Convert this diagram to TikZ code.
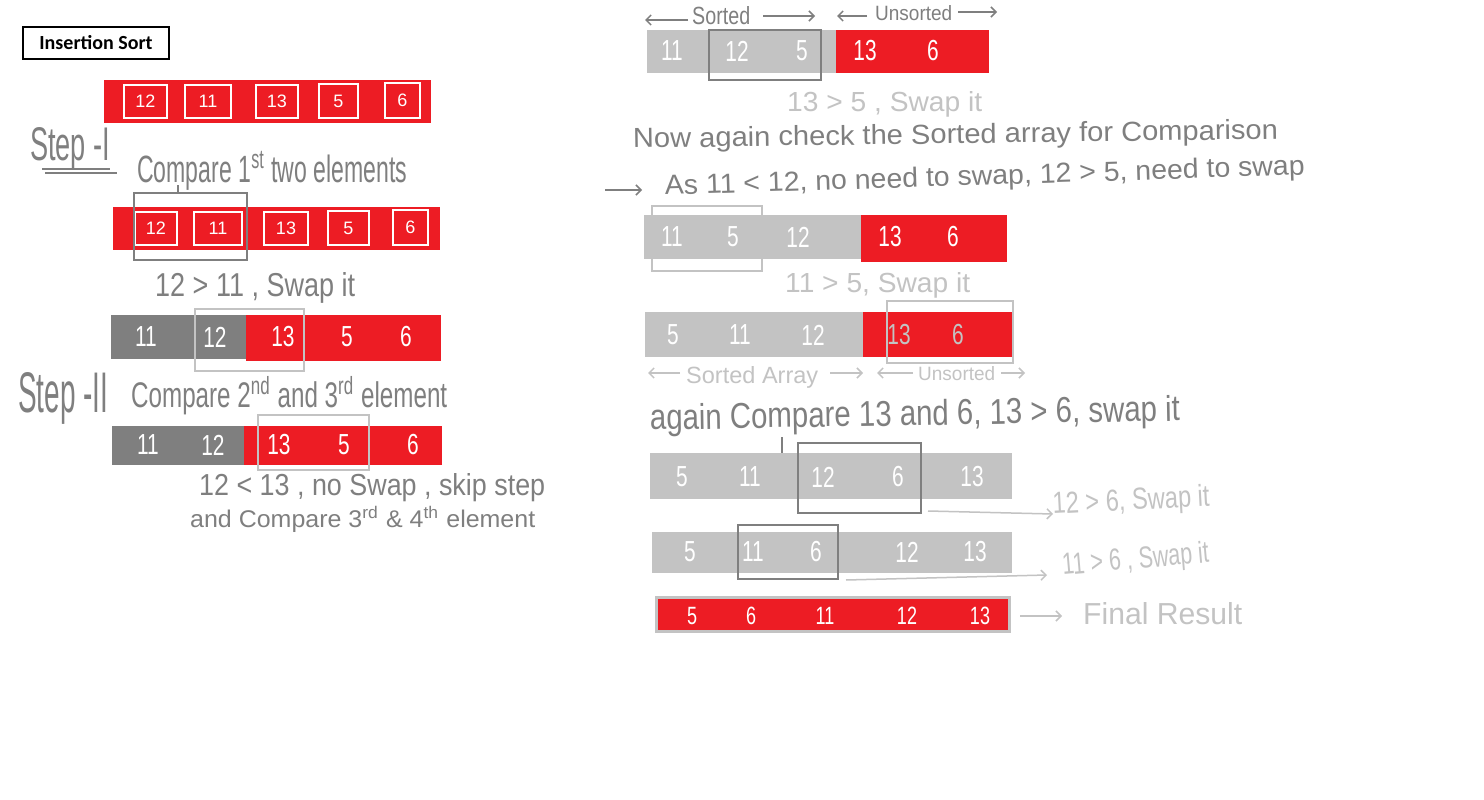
\documentclass[tikz,border=0pt]{standalone}
\usepackage{fontspec}
\setmainfont{Liberation Sans}
\newfontfamily\titlefont{Carlito}
\usetikzlibrary{arrows.meta}
\definecolor{myred}{HTML}{ED1C24}
\definecolor{dgray}{HTML}{7F7F7F}
\definecolor{lgray}{HTML}{C3C3C3}
\newcommand{\hw}[3]{\resizebox{#1pt}{#2pt}{#3}}
\newcommand{\dg}[1]{\scalebox{0.72}[1]{#1}}
\begin{document}
\begin{tikzpicture}[x=1pt,y=-1pt,
  wbox/.style={draw=white, line width=2.6pt, inner sep=0pt, text=white, font=\fontsize{18}{18}\selectfont},
  num/.style={text=white, inner sep=0pt, font=\fontsize{29}{29}\selectfont},
  lnum/.style={num, text=lgray},
  fnum/.style={num, font=\fontsize{25}{25}\selectfont},
  dbox/.style={draw=dgray, line width=2.6pt, inner sep=0pt},
  lbox/.style={draw=lgray, line width=2.6pt, inner sep=0pt},
  hwd/.style={text=dgray, inner sep=0pt, anchor=base west},
  hwl/.style={text=lgray, inner sep=0pt, anchor=base west},
  hwline/.style={draw=dgray, line width=1.5pt},
  darr/.style={draw=dgray, line width=1.5pt, -{Straight Barb[length=5pt,width=10pt]}},
  larr/.style={draw=lgray, line width=1.5pt, -{Straight Barb[length=5pt,width=10pt]}}
]
\useasboundingbox (0,0) rectangle (1484,800);
\fill[white] (0,0) rectangle (1484,800);

% title
\node[draw=black, line width=2.6pt, minimum width=146pt, minimum height=32pt, inner sep=0pt,
      font=\titlefont\bfseries\fontsize{20}{20}\selectfont] (title) at (96,43) {Insertion Sort};

% ---------- left column ----------
% row 1
\fill[myred] (104,80) rectangle (431,123);
\node[wbox, minimum width=43pt, minimum height=33pt] (a1) at (145.5,101.5) {12};
\node[wbox, minimum width=46pt, minimum height=33pt] (a2) at (208,101.5) {11};
\node[wbox, minimum width=42pt, minimum height=33pt] (a3) at (277,101.5) {13};
\node[wbox, minimum width=39pt, minimum height=34pt] (a4) at (338.5,101) {5};
\node[wbox, minimum width=35pt, minimum height=35pt] (a5) at (402.5,100.5) {6};

\node[hwd] (st1) at (30,160) {\hw{80}{33}{Step -I}};
\draw[hwline] (42,169) -- (110,169);
\draw[hwline] (45,173) -- (117,173);
\node[hwd] (t1) at (137,182) {\hw{270}{31}{Compare 1\textsuperscript{st} two elements}};

% row 2
\fill[myred] (113,207) rectangle (440,250);
\node[wbox, minimum width=42pt, minimum height=33pt] (b1) at (156,228.5) {12};
\node[wbox, minimum width=48pt, minimum height=33pt] (b2) at (218,228.5) {11};
\node[wbox, minimum width=44pt, minimum height=33pt] (b3) at (286,228.5) {13};
\node[wbox, minimum width=41pt, minimum height=34pt] (b4) at (348.5,228) {5};
\node[wbox, minimum width=35pt, minimum height=35pt] (b5) at (410.5,227.5) {6};
\node[dbox, minimum width=113pt, minimum height=67pt] (bx1) at (190.5,226.5) {};
\coordinate (p1) at (178,185);
\draw[hwline] (p1) -- (p1 |- bx1.north);

\node[hwd] (t2) at (155,296) {\hw{200}{24}{12 > 11 , Swap it}};

% row 3
\fill[dgray] (111,315) rectangle (246,359);
\fill[myred] (246,315) rectangle (441,361);
\node[num] (c1) at (146,337) {\dg{11}};
\node[num] (c2) at (215,337) {\dg{12}};
\node[num] (c3) at (283,337) {\dg{13}};
\node[num] (c4) at (347,337) {\dg{5}};
\node[num] (c5) at (406,337) {\dg{6}};
\node[lbox, minimum width=109pt, minimum height=62pt] (bx2) at (249.5,340) {};

\node[hwd] (st2) at (18,412) {\hw{90}{40}{Step -II}};
\node[hwd] (t3) at (131,407) {\hw{316}{31}{Compare 2\textsuperscript{nd} and 3\textsuperscript{rd} element}};

% row 4
\fill[dgray] (112,426) rectangle (244,465);
\fill[myred] (244,426) rectangle (442,465);
\node[num] (d1) at (148,445) {\dg{11}};
\node[num] (d2) at (213,445) {\dg{12}};
\node[num] (d3) at (279,445) {\dg{13}};
\node[num] (d4) at (344,445) {\dg{5}};
\node[num] (d5) at (413,445) {\dg{6}};
\node[lbox, minimum width=111pt, minimum height=55pt] (bx3) at (313.5,442.5) {};

\node[hwd] (t4) at (199,495) {\hw{346}{22}{12 < 13 , no Swap , skip step}};
\node[hwd] (t5) at (190,527) {\hw{345}{21}{and Compare 3\textsuperscript{rd} \& 4\textsuperscript{th} element}};

% ---------- right column ----------
\node[hwd] (srt) at (692,25) {\hw{58}{18}{Sorted}};
\coordinate (s0) at (645,20); \coordinate (s1) at (688,20);
\draw[darr] (s1) -- (s0);
\coordinate (s2) at (763,16); \coordinate (s3) at (815,16);
\draw[darr] (s2) -- (s3);
\node[hwd] (uns) at (875,21) {\hw{77}{15}{Unsorted}};
\coordinate (u0) at (837,16); \coordinate (u1) at (867,16);
\draw[darr] (u1) -- (u0);
\coordinate (u2) at (958,12); \coordinate (u3) at (997,12);
\draw[darr] (u2) -- (u3);

% R1
\fill[lgray] (647,30) rectangle (836,73);
\fill[myred] (836,30) rectangle (989,73);
\node[num] (e1) at (672,51) {\dg{11}};
\node[num] (e2) at (737,51) {\dg{12}};
\node[num] (e3) at (802,51) {\dg{5}};
\node[num] (e4) at (865,51) {\dg{13}};
\node[num] (e5) at (933,51) {\dg{6}};
\node[dbox, minimum width=112pt, minimum height=50pt] (bx4) at (765,55) {};

\node[hwl] (t6) at (787,111) {\hw{195}{20}{13 > 5 , Swap it}};
\node[hwd, rotate=0.8] (t7) at (633,148) {\hw{645}{20}{Now again check the Sorted array for Comparison}};
\coordinate (q0) at (605,190); \coordinate (q1) at (642,190);
\draw[darr] (q0) -- (q1);
\node[hwd, rotate=1.8] (t8) at (665,195) {\hw{640}{20}{As 11 < 12, no need to swap, 12 > 5, need to swap}};

% R2
\fill[lgray] (644,215) rectangle (861,259);
\fill[myred] (861,215) rectangle (1007,262);
\node[num] (f1) at (672,237) {\dg{11}};
\node[num] (f2) at (733,237) {\dg{5}};
\node[num] (f3) at (798,237) {\dg{12}};
\node[num] (f4) at (890,237) {\dg{13}};
\node[num] (f5) at (953,237) {\dg{6}};
\node[lbox, minimum width=110pt, minimum height=65pt] (bx5) at (707,238.5) {};

\node[hwl] (t9) at (785,292) {\hw{185}{20}{11 > 5, Swap it}};

% R3
\fill[lgray] (645,312) rectangle (863,357);
\fill[myred] (863,312) rectangle (1013,357);
\node[num] (g1) at (673,335) {\dg{5}};
\node[num] (g2) at (740,335) {\dg{11}};
\node[num] (g3) at (813,335) {\dg{12}};
\node[lnum] (g4) at (899,335) {\dg{13}};
\node[lnum] (g5) at (958,335) {\dg{6}};
\node[lbox, minimum width=126pt, minimum height=62pt] (bx6) at (950,332) {};

\coordinate (v0) at (648,373); \coordinate (v1) at (680,373);
\draw[larr] (v1) -- (v0);
\node[hwl] (sa) at (686,383) {\hw{132}{17}{Sorted Array}};
\coordinate (v2) at (830,373); \coordinate (v3) at (863,373);
\draw[larr] (v2) -- (v3);
\coordinate (v4) at (877,373); \coordinate (v5) at (913,373);
\draw[larr] (v5) -- (v4);
\node[hwl] (ua) at (918,380) {\hw{77}{14}{Unsorted}};
\coordinate (v6) at (1001,373); \coordinate (v7) at (1025,373);
\draw[larr] (v6) -- (v7);

\node[hwd, rotate=1] (t10) at (650,430) {\hw{530}{26}{again Compare 13 and 6, 13 > 6, swap it}};
\coordinate (p2) at (782,437);
\draw[hwline] (p2) -- (782,457);

% R4
\fill[lgray] (650,453) rectangle (1012,499);
\node[num] (h1) at (682,477) {\dg{5}};
\node[num] (h2) at (750,477) {\dg{11}};
\node[num] (h3) at (823,477) {\dg{12}};
\node[num] (h4) at (898,477) {\dg{6}};
\node[num] (h5) at (972,477) {\dg{13}};
\node[dbox, minimum width=123pt, minimum height=70pt] (bx7) at (859.5,478) {};

\node[hwl, rotate=3] (t11) at (1053,514) {\hw{157}{22}{12 > 6, Swap it}};
\coordinate (w0) at (928,511);
\draw[larr] (w0) -- (t11.base west);

% R5
\fill[lgray] (652,532) rectangle (1012,573);
\node[num] (i1) at (690,552) {\dg{5}};
\node[num] (i2) at (753,552) {\dg{11}};
\node[num] (i3) at (816,552) {\dg{6}};
\node[num] (i4) at (907,552) {\dg{12}};
\node[num] (i5) at (975,552) {\dg{13}};
\node[dbox, minimum width=100pt, minimum height=54pt] (bx8) at (788,552) {};

\node[hwl, rotate=5] (t12) at (1063,575) {\hw{147}{22}{11 > 6 , Swap it}};
\coordinate (w1) at (846,580);
\draw[larr] (w1) -- ([xshift=-16pt]t12.base west);

% R6
\draw[lgray, line width=3pt, fill=myred] (656.5,597.5) rectangle (1009.5,631.5);
\node[fnum] (j1) at (692,616) {\dg{5}};
\node[fnum] (j2) at (751,616) {\dg{6}};
\node[fnum] (j3) at (825,616) {\dg{11}};
\node[fnum] (j4) at (907,616) {\dg{12}};
\node[fnum] (j5) at (980,616) {\dg{13}};

\node[hwl] (t13) at (1083,624) {\hw{159}{22}{Final Result}};
\coordinate (w2) at (1020,616); \coordinate (w3) at (1062,616);
\draw[larr] (w2) -- (w3);
\end{tikzpicture}
\end{document}
